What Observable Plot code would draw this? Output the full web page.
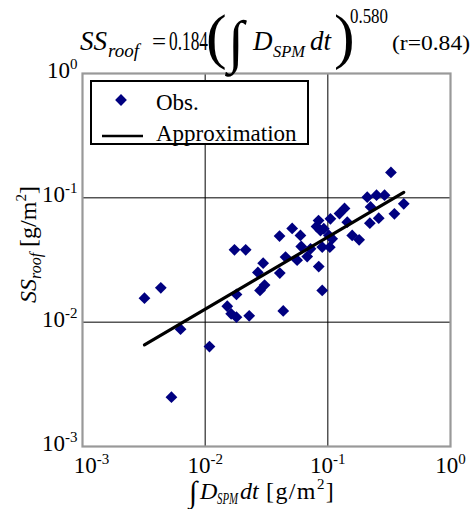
<!DOCTYPE html>
<html><head><meta charset="utf-8">
<script src="https://cdn.jsdelivr.net/npm/d3@7"></script>
<script src="https://cdn.jsdelivr.net/npm/@observablehq/plot@0.6"></script>
<style>body{margin:0;background:#fff;} svg{display:block;}</style>
</head><body><div id="chart"></div>
<script>
// Observed values: ∫D_SPM dt [g/m²] vs SS_roof [g/m²]
const obsX = [0.0032, 0.00435, 0.0063, 0.00531, 0.01084, 0.01734, 0.0214, 0.01514, 0.01629, 0.0180, 0.0180, 0.02286, 0.0297, 0.0269, 0.0305, 0.0280, 0.0406, 0.0433, 0.0404, 0.0512, 0.0452, 0.0562, 0.0598, 0.0607, 0.0723, 0.0679, 0.0840, 0.105, 0.1245, 0.1368, 0.0871, 0.1085, 0.1038, 0.0900, 0.0843, 0.0900, 0.144, 0.158, 0.180, 0.2095, 0.2495, 0.290, 0.327, 0.416, 0.349, 0.223, 0.260, 0.220, 0.0927, 0.102, 0.0809];
const obsY = [0.0156, 0.0189, 0.00878, 0.00249, 0.00637, 0.0382, 0.0382, 0.01343, 0.01167, 0.01096, 0.0167, 0.01125, 0.0298, 0.0251, 0.0199, 0.0180, 0.0248, 0.0123, 0.0493, 0.0567, 0.0334, 0.0315, 0.0498, 0.0406, 0.0389, 0.0337, 0.0657, 0.0678, 0.0748, 0.0821, 0.0546, 0.0468, 0.0401, 0.0402, 0.0280, 0.0180, 0.0637, 0.0498, 0.0460, 0.1012, 0.105, 0.105, 0.160, 0.0895, 0.0744, 0.0844, 0.0686, 0.0625, 0.0564, 0.0498, 0.0588];
// Approximation line
const fitX = [0.0032, 0.416];
const fitY = [0.00657, 0.1106];
// Ticks
const decadeTicks = [1e-3, 1e-2, 1e-1, 1];
const gridTicks = [1e-2, 1e-1];
const legendLabels = ["Obs.", "Approximation"];

const obs = obsX.map((x, i) => ({x, y: obsY[i]}));
const fit = fitX.map((x, i) => ({x, y: fitY[i]}));
const FONT = "Liberation Serif";
const NAVY = "#000080";
const fmt = d => "10^" + Math.round(Math.log10(d));
const axisText = {fontSize: 23, fontFamily: FONT, tickFormat: fmt, label: null, tickSize: 0};

const chart = Plot.plot({
  width: 472, height: 509,
  marginTop: 73, marginBottom: 63, marginLeft: 82, marginRight: 22,
  style: {fontFamily: FONT, background: "white", color: "black"},
  x: {type: "log", domain: [1e-3, 1]},
  y: {type: "log", domain: [1e-3, 1]},
  marks: [
    Plot.gridX(gridTicks, {stroke: "black", strokeOpacity: 1, strokeWidth: 1}),
    Plot.gridY(gridTicks, {stroke: "black", strokeOpacity: 1, strokeWidth: 1}),
    Plot.frame({stroke: "#999", strokeWidth: 2.2}),
    Plot.dot(obs, {x: "x", y: "y", symbol: "diamond2", fill: NAVY, stroke: "none", r: 5.3}),
    Plot.line(fit, {x: "x", y: "y", stroke: "black", strokeWidth: 3.2}),
    Plot.axisX(decadeTicks.slice(1), {...axisText, tickPadding: 10}),
    Plot.axisX(decadeTicks.slice(0, 1), {...axisText, tickPadding: 10, dx: 9}),
    Plot.axisY(decadeTicks, {...axisText, tickPadding: 5, dy: -3})
  ]
});
document.getElementById("chart").appendChild(chart);

const svg = d3.select(chart);
// superscript exponents in tick labels
svg.selectAll("g[aria-label$='tick label'] text").each(function() {
  const s = this.textContent;
  if (!s.includes("^")) return;
  const [base, ex] = s.split("^");
  const el = d3.select(this).style("font-family", FONT);
  el.text("");
  el.append("tspan").text(base);
  el.append("tspan").attr("font-size", 15).attr("dy", "-9").text(ex);
});

function put(g, x, y, s, size, italic, extra) {
  const t = g.append("text").attr("x", x).attr("y", y).attr("font-size", size).text(s);
  if (italic) t.attr("font-style", "italic");
  if (extra) extra(t);
  return t;
}
const squeeze = w => t => t.attr("textLength", w).attr("lengthAdjust", "spacingAndGlyphs");
const ann = svg.append("g").style("font-family", FONT).attr("fill", "black").attr("text-anchor", "start");

// Title formula
put(ann, 80, 50, "SS", 27, true);
put(ann, 108, 57, "roof", 19, true);
put(ann, 152, 50, "=", 25);
put(ann, 169, 50, "0.184", 27, false, squeeze(39));
put(ann, 206, 57, "(", 62);
put(ann, 228, 61, "∫", 58);
put(ann, 253, 50, "D", 27, true);
put(ann, 273, 57, "SPM", 17, true, squeeze(32));
put(ann, 310, 50, "dt", 27, true);
put(ann, 334, 57, ")", 62);
put(ann, 350, 23, "0.580", 22, false, squeeze(38));
put(ann, 392, 50, "(r=0.84)", 22, false, squeeze(78));

// X label
put(ann, 189, 502, "∫", 30);
put(ann, 200, 499, "D", 24, true);
put(ann, 217, 504, "SPM", 16, true, squeeze(21));
put(ann, 240, 499, "dt", 24, true);
{
  const t = put(ann, 266, 499, "", 24).attr("letter-spacing", 1.4);
  t.append("tspan").text("[g/m");
  t.append("tspan").attr("font-size", 15).attr("dy", -10).text("2");
  t.append("tspan").attr("dy", 10).text("]");
}

// Y label (rotated)
{
  const g = ann.append("g").attr("transform", "translate(36,303) rotate(-90)");
  const t = g.append("text").attr("font-size", 24);
  t.append("tspan").attr("font-style", "italic").text("SS");
  t.append("tspan").attr("font-style", "italic").attr("font-size", 16).attr("dy", 5).text("roof");
  t.append("tspan").attr("dy", -5).text(" [g/m");
  t.append("tspan").attr("font-size", 15).attr("dy", -10).text("2");
  t.append("tspan").attr("dy", 10).text("]");
}

// Legend
const lg = svg.append("g").style("font-family", FONT).attr("text-anchor", "start");
lg.append("rect").attr("x", 91).attr("y", 81).attr("width", 217).attr("height", 63)
  .attr("fill", "white").attr("stroke", "black").attr("stroke-width", 2);
lg.append("path").attr("d", d3.symbol(d3.symbolDiamond2, 5.3 * 5.3 * Math.PI)())
  .attr("transform", "translate(121,100)").attr("fill", NAVY);
lg.append("line").attr("x1", 102).attr("x2", 143).attr("y1", 136).attr("y2", 136)
  .attr("stroke", "black").attr("stroke-width", 2.5);
put(lg, 156, 110, legendLabels[0], 23);
put(lg, 156, 141, legendLabels[1], 23);
</script>
</body></html>
